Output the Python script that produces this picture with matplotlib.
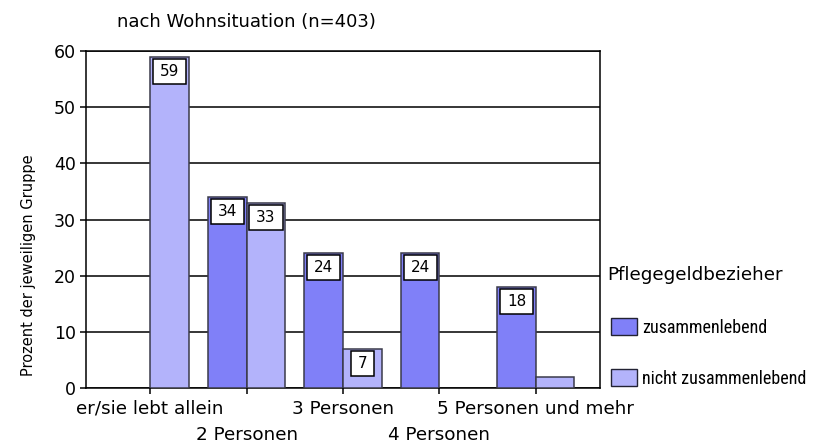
import matplotlib
matplotlib.use("Agg")
import matplotlib.pyplot as plt
from matplotlib.path import Path
from matplotlib.patches import Patch
import numpy as np

categories = ["er/sie lebt allein", "2 Personen", "3 Personen", "4 Personen", "5 Personen und mehr"]
zusammen = [0, 34, 24, 24, 18]
nicht_zusammen = [59, 33, 7, 0, 2]
series_names = ["zusammenlebend", "nicht zusammenlebend"]
legend_title = "Pflegegeldbezieher"
title = "nach Wohnsituation (n=403)"
ylabel = "Prozent der jeweiligen Gruppe"
yticks = [0, 10, 20, 30, 40, 50, 60]

c_zus = "#8080f8"
c_nicht = "#b3b3fb"
edge = "#3a3a4a"

plt.rcParams["font.family"] = ["DejaVu Sans"]

fig = plt.figure(figsize=(8.29, 4.44), dpi=100)
ax = fig.add_axes([86 / 829, 1 - 388 / 444, (600 - 86) / 829, (388 - 51) / 444])

x = np.arange(len(categories))
w = 0.4
b1 = ax.bar(x, zusammen, width=-w, align="edge", color=c_zus, edgecolor=edge,
            linewidth=1.1, zorder=3)
b2 = ax.bar(x, nicht_zusammen, width=w, align="edge", color=c_nicht, edgecolor=edge,
            linewidth=1.1, zorder=3)
for bars, vals in ((b1, zusammen), (b2, nicht_zusammen)):
    for rect, v in zip(bars, vals):
        if v == 0:
            rect.set_visible(False)


def label_box(x0, y0, width, height, mutation_size):
    px = 0.45 * mutation_size
    py = 0.33 * mutation_size
    return Path([(x0 - px, y0 - py), (x0 + width + px, y0 - py),
                 (x0 + width + px, y0 + height + py), (x0 - px, y0 + height + py),
                 (x0 - px, y0 - py)], closed=True)


for bars, vals in ((b1, zusammen), (b2, nicht_zusammen)):
    for rect, v in zip(bars, vals):
        if v >= 5:
            cx = rect.get_x() + rect.get_width() / 2
            ax.annotate(str(v), (cx, v), xytext=(0, -5.2), textcoords="offset points",
                        ha="center", va="top", fontsize=11, zorder=5,
                        bbox=dict(boxstyle=label_box, facecolor="white",
                                  edgecolor="black", linewidth=1.1))

ax.set_xlim(-2 / 3, len(categories) - 1 + 2 / 3)
ax.set_ylim(0, 60)
ax.set_yticks(yticks)
ax.tick_params(axis="y", direction="out", length=4.3, width=1.1, pad=2.9, labelsize=12.5)

ax.set_xticks(x[0::2], [categories[i] for i in x[0::2]])
ax.set_xticks(x[1::2], [categories[i] for i in x[1::2]], minor=True)
ax.tick_params(axis="x", which="major", direction="out", length=4.3, width=1.1,
               pad=4.1, labelsize=13.2)
ax.tick_params(axis="x", which="minor", direction="out", length=4.3, width=1.1,
               pad=23, labelsize=13.2)

ax.yaxis.grid(True, color="black", linewidth=1.1, zorder=0)
ax.set_axisbelow(True)
for s in ax.spines.values():
    s.set_linewidth(1.1)
    s.set_color("black")

fig.text(117 / 829, 1 - 22 / 444, title, fontsize=13, ha="left", va="center")
fig.text(29 / 829, 1 - 265 / 444, ylabel, fontsize=10.5, rotation=90,
         ha="center", va="center")

fig.text(607 / 829, 1 - 275 / 444, legend_title, fontsize=13.2, ha="left", va="center")
handles = [Patch(facecolor=c_zus, edgecolor="#222233", linewidth=1.0),
           Patch(facecolor=c_nicht, edgecolor="#222233", linewidth=1.0)]
leg = fig.legend(handles, series_names, loc="upper left",
                 bbox_to_anchor=(611 / 829, 1 - 318 / 444),
                 frameon=False, borderpad=0, borderaxespad=0,
                 handlelength=1.45, handleheight=1.1, handletextpad=0.26,
                 labelspacing=1.78,
                 prop=dict(family=["Roboto Condensed", "DejaVu Sans"], size=13))

fig.savefig("out.png", dpi=100)
